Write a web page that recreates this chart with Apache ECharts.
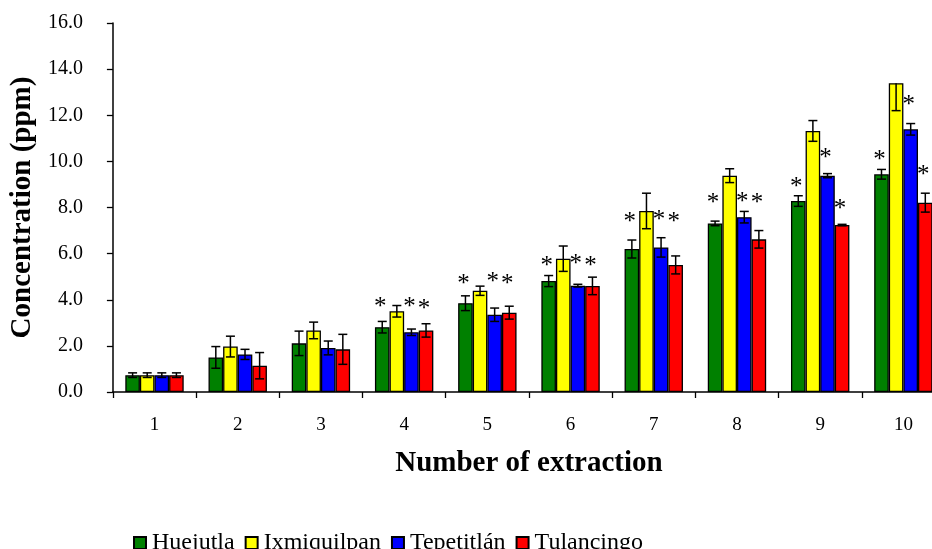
<!DOCTYPE html>
<html>
<head>
<meta charset="utf-8">
<script src="https://cdn.jsdelivr.net/npm/echarts@6/dist/echarts.min.js"></script>
<style>html,body{margin:0;padding:0;background:#fff;overflow:hidden;width:932px;height:549px;}#c{width:945px;height:549px;}</style>
</head>
<body>
<div id="c"></div>
<script>
var categories = ['1','2','3','4','5','6','7','8','9','10'];
var seriesNames = ['Huejutla','Ixmiquilpan','Tepetitlán','Tulancingo'];
var huejutla    = [0.73, 1.50, 2.11, 2.81, 3.85, 4.81, 6.20, 7.31, 8.28, 9.44];
var ixmiquilpan = [0.73, 1.97, 2.67, 3.50, 4.39, 5.78, 7.85, 9.38, 11.32, 13.39];
var tepetitlan  = [0.73, 1.63, 1.91, 2.59, 3.35, 4.61, 6.27, 7.58, 9.38, 11.39];
var tulancingo  = [0.73, 1.14, 1.85, 2.67, 3.44, 4.60, 5.51, 6.62, 7.24, 8.21];
var sdHuejutla    = [0.10, 0.47, 0.53, 0.25, 0.32, 0.24, 0.39, 0.10, 0.23, 0.21];
var sdIxmiquilpan = [0.10, 0.45, 0.36, 0.25, 0.20, 0.55, 0.77, 0.30, 0.45, 1.19];
var sdTepetitlan  = [0.10, 0.22, 0.30, 0.14, 0.29, 0.06, 0.42, 0.25, 0.09, 0.25];
var sdTulancingo  = [0.10, 0.57, 0.65, 0.29, 0.28, 0.38, 0.39, 0.38, 0.03, 0.41];
// error bar drawn only downward for [seriesIndex, categoryIndex]
var downOnly = [[1, 9]];
// heights of significance asterisks (null = none)
var starHuejutla   = [null, null, null, 3.82, 4.83, 5.61, 7.53, 8.33, 9.05, 10.20];
var starIxmiquilpan= [null, null, null, null, null, null, null, null, null, null];
var starTepetitlan = [null, null, null, 3.86, 4.94, 5.69, 7.60, 8.41, 10.28, 12.59];
var starTulancingo = [null, null, null, 3.77, 4.83, 5.61, 7.53, 8.33, 8.08, 9.55];
var yTicks = ['0.0','2.0','4.0','6.0','8.0','10.0','12.0','14.0','16.0'];

var values = [huejutla, ixmiquilpan, tepetitlan, tulancingo];
var sds = [sdHuejutla, sdIxmiquilpan, sdTepetitlan, sdTulancingo];
var stars = [starHuejutla, starIxmiquilpan, starTepetitlan, starTulancingo];
var colors = ['#008000', '#FFFF00', '#0000FF', '#FF0000'];
var BAR_W = 14.6;
var FONT = '"Liberation Serif", "Times New Roman", serif';

function isDownOnly(k, i) {
  for (var j = 0; j < downOnly.length; j++) if (downOnly[j][0] === k && downOnly[j][1] === i) return true;
  return false;
}

var series = [];
seriesNames.forEach(function (name, k) {
  series.push({
    name: name, type: 'bar', data: values[k], barWidth: BAR_W, barGap: '0%',
    itemStyle: { color: colors[k], borderColor: '#000', borderWidth: 1.3 },
    z: 2
  });
});
seriesNames.forEach(function (name, k) {
  var d = values[k].map(function (v, i) { return [i, v, sds[k][i], isDownOnly(k, i) ? 1 : 0]; });
  series.push({
    name: name + ' err', type: 'custom', z: 5, silent: true,
    data: d,
    renderItem: function (params, api) {
      var i = api.value(0), v = api.value(1), sd = api.value(2), down = api.value(3);
      var c = api.coord([i, v]);
      var x = c[0] + (k - 1.5) * BAR_W;
      var yl = api.coord([i, v - sd])[1];
      var yh = down ? c[1] : api.coord([i, v + sd])[1];
      var cap = 4.5;
      var st = { stroke: '#000', lineWidth: 1.5 };
      var ch = [
        { type: 'line', shape: { x1: x, y1: yh, x2: x, y2: yl }, style: st },
        { type: 'line', shape: { x1: x - cap, y1: yl, x2: x + cap, y2: yl }, style: st }
      ];
      if (!down) ch.push({ type: 'line', shape: { x1: x - cap, y1: yh, x2: x + cap, y2: yh }, style: st });
      return { type: 'group', children: ch };
    }
  });
});
seriesNames.forEach(function (name, k) {
  var d = [];
  stars[k].forEach(function (s, i) { if (s !== null) d.push([i, s]); });
  if (!d.length) return;
  series.push({
    name: name + ' star', type: 'custom', z: 6, silent: true,
    data: d,
    renderItem: function (params, api) {
      var c = api.coord([api.value(0), api.value(1)]);
      var x = c[0] + (k - 1.5) * BAR_W - 2;
      return {
        type: 'text',
        style: { text: '*', x: x, y: c[1] + 4, font: '25px ' + FONT, fill: '#000', align: 'center', verticalAlign: 'middle' }
      };
    }
  });
});

var chart = echarts.init(document.getElementById('c'));
chart.setOption({
  animation: false,
  backgroundColor: '#fff',
  grid: { left: 112, top: 23, right: 0, bottom: 157, containLabel: false },
  legend: {
    data: seriesNames, left: 128, top: 526, itemWidth: 12, itemHeight: 12, itemGap: 10,
    icon: 'rect',
    textStyle: { fontFamily: FONT, fontSize: 24, color: '#000', padding: [0, 0, 0, 1] }
  },
  xAxis: {
    type: 'category', data: categories,
    name: 'Number of extraction', nameLocation: 'middle', nameGap: 57,
    nameTextStyle: { fontFamily: FONT, fontSize: 29, fontWeight: 'bold', color: '#000' },
    axisLine: { lineStyle: { color: '#000', width: 1.5 } },
    axisTick: { show: true, length: 6, lineStyle: { color: '#000', width: 1.3 } },
    axisLabel: { fontFamily: FONT, fontSize: 19, color: '#000', margin: 24 }
  },
  yAxis: {
    type: 'value', min: 0, max: 16, interval: 2,
    name: 'Concentration (ppm)', nameLocation: 'middle', nameGap: 73, nameRotate: 90,
    nameTextStyle: { fontFamily: FONT, fontSize: 29, fontWeight: 'bold', color: '#000' },
    axisLine: { show: true, lineStyle: { color: '#000', width: 1.5 } },
    axisTick: { show: true, length: 6, lineStyle: { color: '#000', width: 1.3 } },
    splitLine: { show: false },
    axisLabel: {
      fontFamily: FONT, fontSize: 20, color: '#000', margin: 30,
      formatter: function (v) { return yTicks[Math.round(v / 2)]; }
    }
  },
  series: series
});
</script>
</body>
</html>
